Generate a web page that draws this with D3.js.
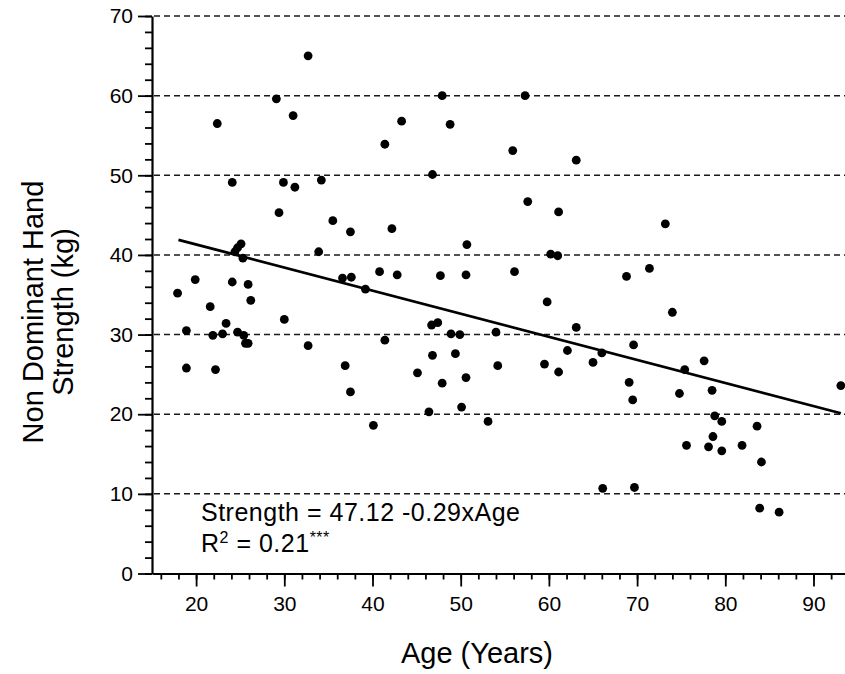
<!DOCTYPE html>
<html>
<head>
<meta charset="utf-8">
<script src="https://cdn.jsdelivr.net/npm/d3@7"></script>
<style>
  body { margin: 0; background: #fff; }
  text { font-family: "Liberation Sans", Arial, Helvetica, sans-serif; fill: #000; }
</style>
</head>
<body>
<svg id="chart" width="845" height="674"></svg>
<script>
  // values
  var ages = [
    32.7, 29.1, 47.9, 31.0, 22.4, 43.3, 48.8, 41.4, 24.1, 29.9,
    31.2, 34.2, 46.8, 29.4, 35.5, 37.5, 42.2, 50.7, 25.1, 24.7,
    24.4, 25.3, 33.9, 19.9, 17.9, 24.1, 25.9, 26.2, 36.6, 37.6,
    39.2, 40.8, 42.8, 47.7, 50.6, 21.6, 23.4, 18.9, 21.9, 23.0,
    24.7, 25.4, 25.6, 25.9, 30.0, 32.7, 18.9, 22.2, 36.9, 37.5,
    40.1, 41.4, 46.7, 47.4, 48.9, 49.9, 54.0, 54.2, 45.1, 46.8,
    49.4, 47.9, 50.6, 46.4, 50.1, 53.1, 57.3, 55.9, 63.1, 57.6,
    61.1, 73.2, 60.2, 61.0, 56.1, 68.8, 71.4, 59.8, 74.0, 63.1,
    62.1, 66.0, 69.6, 59.5, 61.1, 65.0, 75.4, 77.6, 69.1, 69.5,
    74.8, 78.5, 93.1, 78.8, 79.6, 83.6, 78.6, 75.6, 78.1, 79.6,
    81.9, 84.1, 66.1, 69.7, 83.9, 86.1
  ];
  var strength = [
    65.0, 59.6, 60.0, 57.5, 56.5, 56.8, 56.4, 53.9, 49.1, 49.1,
    48.5, 49.4, 50.1, 45.3, 44.3, 42.9, 43.3, 41.3, 41.4, 40.9,
    40.4, 39.6, 40.4, 36.9, 35.2, 36.6, 36.3, 34.3, 37.1, 37.2,
    35.7, 37.9, 37.5, 37.4, 37.5, 33.5, 31.4, 30.5, 29.9, 30.1,
    30.3, 29.9, 28.9, 28.9, 31.9, 28.6, 25.8, 25.6, 26.1, 22.8,
    18.6, 29.3, 31.2, 31.5, 30.1, 30.0, 30.3, 26.1, 25.2, 27.4,
    27.6, 23.9, 24.6, 20.3, 20.9, 19.1, 60.0, 53.1, 51.9, 46.7,
    45.4, 43.9, 40.1, 39.9, 37.9, 37.3, 38.3, 34.1, 32.8, 30.9,
    28.0, 27.7, 28.7, 26.3, 25.3, 26.5, 25.6, 26.7, 24.0, 21.8,
    22.6, 23.0, 23.6, 19.8, 19.1, 18.5, 17.2, 16.1, 15.9, 15.4,
    16.1, 14.0, 10.7, 10.8, 8.2, 7.7
  ];
  var fitIntercept = 47.12;
  var fitSlope = -0.29;
  var yTicks = [0, 10, 20, 30, 40, 50, 60, 70];
  var xTicks = [20, 30, 40, 50, 60, 70, 80, 90];

  var points = ages.map(function (a, i) { return { age: a, strength: strength[i] }; });

  var svg = d3.select('#chart');

  var x = d3.scaleLinear().domain([15, 95]).range([152, 857.6]);
  var y = d3.scaleLinear().domain([0, 70]).range([573.5, 16]);

  // dashed grid
  svg.append('g')
    .attr('class', 'grid')
    .selectAll('line')
    .data(yTicks.filter(function (d) { return d > 0; }))
    .enter()
    .append('line')
      .attr('x1', x(15) + 2)
      .attr('x2', 845)
      .attr('y1', function (d) { return y(d); })
      .attr('y2', function (d) { return y(d); })
      .attr('stroke', '#1a1a1a')
      .attr('stroke-width', 1.5)
      .attr('stroke-dasharray', '6,4');

  // minor ticks every 2 units
  svg.append('g')
    .attr('transform', 'translate(' + x(15) + ',0)')
    .call(d3.axisLeft(y).tickValues(d3.range(0, 71, 2)).tickSize(7).tickFormat(''))
    .call(function (g) { g.select('.domain').remove(); });

  svg.append('g')
    .attr('transform', 'translate(0,' + y(0) + ')')
    .call(d3.axisBottom(x).tickValues(d3.range(16, 95, 2)).tickSize(6).tickFormat(''))
    .call(function (g) { g.select('.domain').remove(); });

  // major axes
  svg.append('g')
    .attr('transform', 'translate(' + x(15) + ',0)')
    .call(d3.axisLeft(y).tickValues(yTicks).tickSize(14).tickSizeOuter(0).tickPadding(5));

  svg.append('g')
    .attr('transform', 'translate(0,' + y(0) + ')')
    .call(d3.axisBottom(x).tickValues(xTicks).tickSize(13).tickSizeOuter(0).tickPadding(10));

  svg.selectAll('.tick line').attr('stroke', '#000').attr('stroke-width', 1.8);
  svg.selectAll('.domain').attr('stroke', '#000').attr('stroke-width', 2.2);
  svg.selectAll('.tick text')
    .style('font-size', '21px')
    .style('font-family', '"Liberation Sans", Arial, sans-serif');

  // points
  svg.append('g')
    .selectAll('circle')
    .data(points)
    .enter()
    .append('circle')
      .attr('cx', function (d) { return x(d.age); })
      .attr('cy', function (d) { return y(d.strength); })
      .attr('r', 4.4)
      .attr('fill', '#000');

  // regression line
  var fitRange = [18, d3.max(ages)];
  svg.append('path')
    .datum(fitRange)
    .attr('fill', 'none')
    .attr('stroke', '#000')
    .attr('stroke-width', 2.8)
    .attr('d', d3.line()
      .x(function (d) { return x(d); })
      .y(function (d) { return y(fitIntercept + fitSlope * d); }));

  // equation
  svg.append('text')
    .attr('x', 201)
    .attr('y', 521)
    .attr('font-size', 25)
    .attr('letter-spacing', 0.5)
    .text('Strength = ' + fitIntercept.toFixed(2) + ' ' + fitSlope.toFixed(2) + 'xAge');

  var r2 = svg.append('text')
    .attr('x', 201)
    .attr('y', 552)
    .attr('font-size', 25)
    .attr('letter-spacing', 0.5);
  r2.append('tspan').text('R');
  r2.append('tspan').attr('font-size', 16).attr('dy', -9).text('2');
  r2.append('tspan').attr('dy', 9).text(' = 0.21');
  r2.append('tspan').attr('font-size', 16).attr('dy', -9).text('***');

  // axis titles
  svg.append('text')
    .attr('x', 477)
    .attr('y', 663)
    .attr('text-anchor', 'middle')
    .attr('font-size', 29)
    .text('Age (Years)');

  svg.append('text')
    .attr('transform', 'translate(43,312) rotate(-90)')
    .attr('text-anchor', 'middle')
    .attr('font-size', 29)
    .text('Non Dominant Hand');

  svg.append('text')
    .attr('transform', 'translate(73,312) rotate(-90)')
    .attr('text-anchor', 'middle')
    .attr('font-size', 29)
    .text('Strength (kg)');
</script>
</body>
</html>
